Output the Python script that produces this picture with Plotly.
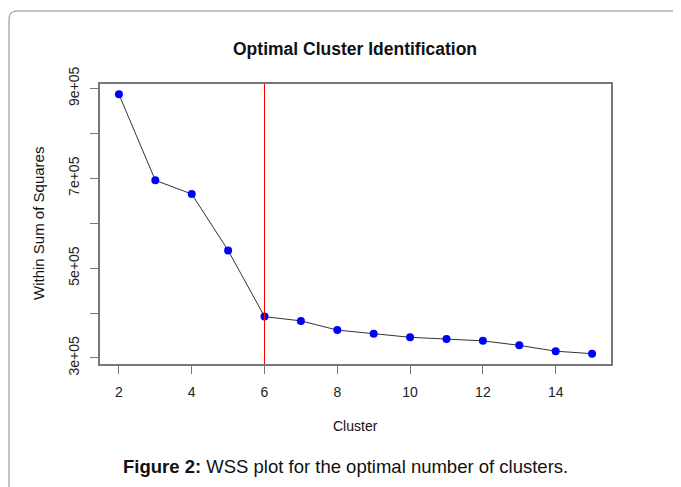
import plotly.graph_objects as go

clusters = [2, 3, 4, 5, 6, 7, 8, 9, 10, 11, 12, 13, 14, 15]
wss = [887000, 695500, 665000, 539500, 392000, 382500, 362000, 354000,
       346000, 342000, 338000, 328000, 315000, 309500]
optimal_k = 6
x_ticks = [2, 4, 6, 8, 10, 12, 14]
y_ticks = [300000, 400000, 500000, 600000, 700000, 800000, 900000]
y_tick_text = ["3e+05", "", "5e+05", "", "7e+05", "", "9e+05"]

FONT = "Liberation Sans, Arial, sans-serif"
OFF = 8  # browser body margin
W, H = 681 - OFF, 487 - OFF
L, R, T, B = 100 - OFF, 70, 84 - OFF, 123
PW, PH = W - L - R, H - T - B

def px(xp):
    return (xp - OFF - L) / PW

def py(yp):
    return (OFF + T + PH - yp) / PH

fig = go.Figure()
fig.add_trace(go.Scatter(
    x=clusters, y=wss, mode="lines+markers",
    line=dict(color="#333333", width=1),
    marker=dict(color="#0000FF", size=8),
    showlegend=False, hoverinfo="x+y"))

fig.add_shape(type="line", xref="x", yref="paper", x0=optimal_k, x1=optimal_k,
              y0=0, y1=1, line=dict(color="#FF0000", width=1))

# outer frame with rounded top-left corner
r = 8
x0, y0, x1, y1 = px(9), py(11), px(700), py(500)
rx, ry = r / PW, r / PH
fig.add_shape(type="path", xref="paper", yref="paper",
              path=f"M {x0},{y1} L {x0},{y0 - ry} Q {x0},{y0} {x0 + rx},{y0} L {x1},{y0}",
              line=dict(color="#888888", width=1))

ann = dict(xref="paper", yref="paper", showarrow=False, xanchor="center", yanchor="middle")
fig.add_annotation(text="<b>Optimal Cluster Identification</b>",
                   x=px(355), y=py(49), font=dict(family=FONT, size=17.5, color="#111111"), **ann)
fig.add_annotation(text="Cluster",
                   x=px(355), y=py(426), font=dict(family=FONT, size=14, color="#111111"), **ann)
fig.add_annotation(text="Within Sum of Squares", textangle=-90,
                   x=px(38), y=py(224), font=dict(family=FONT, size=15, color="#111111"), **ann)
fig.add_annotation(text="<b>Figure 2:</b> WSS plot for the optimal number of clusters.",
                   x=px(345.5), y=py(466), font=dict(family=FONT, size=18.5, color="#111111"), **ann)

axis_common = dict(showline=True, mirror=True, linecolor="#777777", linewidth=1.5,
                   ticks="outside", ticklen=8, tickcolor="#777777", tickwidth=1.2,
                   showgrid=False, zeroline=False,
                   tickfont=dict(family=FONT, size=14, color="#222222"))

fig.update_layout(
    width=W, height=H,
    margin=dict(l=L, r=R, t=T, b=B, pad=0),
    paper_bgcolor="white", plot_bgcolor="white",
    xaxis=dict(range=[1.48, 15.52], tickvals=x_ticks, ticklabelstandoff=6, **axis_common),
    yaxis=dict(range=[286500, 910000], tickvals=y_ticks, ticktext=y_tick_text,
               tickangle=-90, ticklabelstandoff=6, **axis_common),
)

fig.write_html("out.html")
